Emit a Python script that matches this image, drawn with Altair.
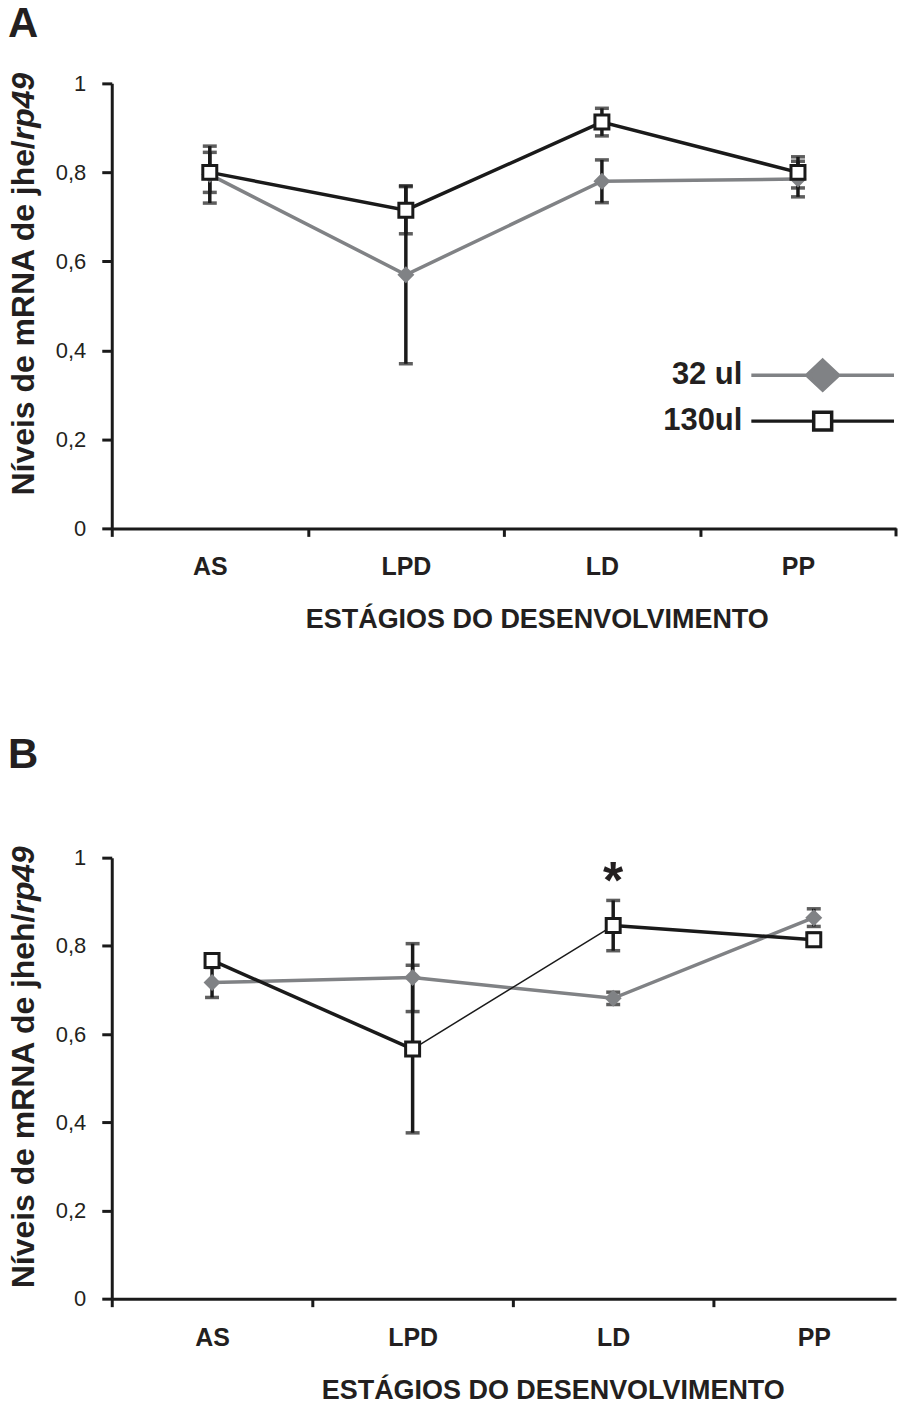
import altair as alt
import pandas as pd

# ---------------- data ----------------
stages = ["AS", "LPD", "LD", "PP"]
series_names = ["32 ul", "130ul"]

# Panel A  (jhe/rp49)
a_32_mean = [0.795, 0.570, 0.780, 0.785]
a_32_err = [0.064, 0.200, 0.048, 0.040]
a_130_mean = [0.800, 0.715, 0.913, 0.800]
a_130_err = [0.045, 0.053, 0.031, 0.035]

# Panel B  (jheh/rp49)
b_32_mean = [0.717, 0.728, 0.681, 0.864]
b_32_err = [0.034, 0.077, 0.014, 0.020]
b_130_mean = [0.767, 0.566, 0.846, 0.814]
b_130_err = [0.010, 0.190, 0.057, 0.015]

star_stage = ["LD"]
star_value = [0.977]
star_text = ["*"]

y_ticks = [0, 0.2, 0.4, 0.6, 0.8, 1]
title_a_roman = ["Níveis de    mRNA de jhe/"]
title_b_roman = ["Níveis de    mRNA de jheh/"]
title_italic = ["rp49"]
x_title = "ESTÁGIOS DO DESENVOLVIMENTO"

# ---------------- style ----------------
FONT = "Liberation Sans"
GRAY = "#808285"
BLACK = "#1a1a1a"
TXT = "#231f20"


def series_frame(means, errs, name):
    return pd.DataFrame({
        "i": list(range(len(stages))),
        "stage": stages,
        "series": name,
        "v": means,
        "lo": [m - e for m, e in zip(means, errs)],
        "hi": [m + e for m, e in zip(means, errs)],
    })


def label_expr():
    expr = "''"
    for k in range(len(stages) - 1, -1, -1):
        expr = f"datum.value < {k} ? '{stages[k]}' : ({expr})"
    return expr


def panel(letter, m32, e32, m130, e130, xmax, width, height, roman, thin_mid,
          legend, star, label_base, title_y, title_x, join_y, end_tick,
          title_offset):
    d32 = series_frame(m32, e32, series_names[0])
    d130 = series_frame(m130, e130, series_names[1])
    both = pd.concat([d32, d130], ignore_index=True)

    step = width / (xmax + 0.5)
    # boundaries between stages (label sits half a step to the right)
    tick_vals = [k - 0.5 for k in range(len(stages))]

    X = alt.X("i:Q",
              scale=alt.Scale(domain=[-0.5, xmax], nice=False, zero=False),
              axis=alt.Axis(values=tick_vals, labelExpr=label_expr(),
                            labelOffset=step / 2, labelFlush=False, labelOverlap=False,
                            labelFont=FONT, labelFontSize=25, labelFontWeight="bold",
                            labelColor=TXT, labelBaseline="alphabetic",
                            labelPadding=label_base - 8, tickSize=8, tickWidth=3,
                            tickColor=BLACK, domainColor=BLACK, domainWidth=3,
                            grid=False, title=x_title, titleFont=FONT,
                            titleFontSize=27, titleFontWeight="bold", titleColor=TXT,
                            titleBaseline="alphabetic", titleY=title_y,
                            titleX=title_x, titleAlign="center"))
    Y = alt.Y("v:Q",
              scale=alt.Scale(domain=[0, 1], nice=False, zero=True),
              axis=alt.Axis(values=y_ticks,
                            labelExpr="replace(format(datum.value, '.1~f'), '.', ',')",
                            labelFont=FONT, labelFontSize=22, labelColor=TXT,
                            labelPadding=16, tickSize=10, tickWidth=3,
                            tickColor=BLACK, domainColor=BLACK, domainWidth=3,
                            grid=False, title=None))

    layers = []
    layers.append(alt.Chart(d32).mark_line(color=GRAY, strokeWidth=3.5)
                  .encode(x=X, y=Y))
    if thin_mid:
        segs = []
        for s in range(len(stages) - 1):
            part = d130.iloc[s:s + 2].copy()
            part["seg"] = s
            part["w"] = 1.5 if s == 1 else 3.5
            segs.append(part)
        dseg = pd.concat(segs, ignore_index=True)
        layers.append(alt.Chart(dseg).mark_line(color=BLACK)
                      .encode(x=X, y=Y, detail="seg:N",
                              strokeWidth=alt.StrokeWidth("w:Q", scale=None)))
    else:
        layers.append(alt.Chart(d130).mark_line(color=BLACK, strokeWidth=3.5)
                      .encode(x=X, y=Y))
    layers.append(alt.Chart(both).mark_rule(color=BLACK, strokeWidth=3.5)
                  .encode(x=X, y=alt.Y("lo:Q"), y2="hi:Q"))
    for f in ["lo", "hi"]:
        layers.append(alt.Chart(both).mark_tick(color=BLACK, thickness=3.5,
                                                size=14, orient="horizontal")
                      .encode(x=X, y=alt.Y(f"{f}:Q")))
    layers.append(alt.Chart(d32).mark_point(shape="diamond", filled=True,
                                            color=GRAY, size=290, opacity=1)
                  .encode(x=X, y=Y))
    layers.append(alt.Chart(d130).mark_point(shape="square", filled=True,
                                             fill="white", stroke=BLACK,
                                             strokeWidth=3, size=196, opacity=1)
                  .encode(x=X, y=Y))

    if end_tick:
        # closing tick at the end of the x axis (domain maximum)
        layers.append(alt.Chart(pd.DataFrame({"i": [xmax]})).mark_rule(
            color=BLACK, strokeWidth=3).encode(
                x=X, y=alt.value(height), y2=alt.value(height + 8)))

    # y-axis title: roman part + italic part
    layers.append(alt.Chart(pd.DataFrame({"t": roman})).mark_text(
        angle=270, align="right", baseline="middle", font=FONT, fontSize=32,
        fontWeight="bold", color=TXT).encode(text="t:N", x=alt.value(-88),
                                            y=alt.value(join_y)))
    layers.append(alt.Chart(pd.DataFrame({"t": title_italic})).mark_text(
        angle=270, align="left", baseline="middle", font=FONT, fontSize=32,
        fontWeight="bold", fontStyle="italic", color=TXT).encode(
            text="t:N", x=alt.value(-88), y=alt.value(join_y)))

    if legend:
        half = 7.15  # half line length in symbol units (10 px / unit)
        gpath = f"M-{half},0L{half},0M0,-1.5L1.6,0L0,1.5L-1.6,0Z"
        spath = (f"M-{half},0L-0.9,0M0.9,0L{half},0"
                 "M-0.9,-0.9L0.9,-0.9L0.9,0.9L-0.9,0.9Z")
        leg = alt.Legend(title=None, orient="none", legendX=697, legendY=277,
                         symbolSize=400, symbolStrokeWidth=3.5,
                         symbolOpacity=1, labelFont=FONT, labelFontSize=31,
                         labelFontWeight="bold", labelColor=TXT,
                         labelAlign="right",
                         labelOffset={"expr": "-96"},
                         rowPadding=7, padding=0, labelLimit=300)
        dleg = pd.DataFrame({"series": series_names, "i": [0, 0], "v": [0.5, 0.5]})
        layers.append(alt.Chart(dleg).mark_point(opacity=0, filled=True, size=1).encode(
            x=X, y=Y,
            shape=alt.Shape("series:N", scale=alt.Scale(domain=series_names,
                                                        range=[gpath, spath]),
                            legend=leg),
            fill=alt.Fill("series:N", scale=alt.Scale(domain=series_names,
                                                      range=[GRAY, "white"]),
                          legend=leg),
            stroke=alt.Stroke("series:N", scale=alt.Scale(domain=series_names,
                                                          range=[GRAY, BLACK]),
                              legend=leg)))
    if star:
        ds = pd.DataFrame({"stage": star_stage, "v": star_value, "t": star_text})
        ds["i"] = [stages.index(s) for s in ds["stage"]]
        layers.append(alt.Chart(ds).mark_text(font=FONT, fontSize=52,
                                              fontWeight="bold", color=TXT,
                                              baseline="alphabetic", dy=30)
                      .encode(x=X, y=Y, text="t:N"))

    return alt.layer(*layers).properties(
        width=width, height=height,
        title=alt.TitleParams(letter, anchor="start", frame="bounds", font=FONT,
                              fontSize=42, fontWeight="bold", color=TXT,
                              offset=title_offset))


pa = panel("A", a_32_mean, a_32_err, a_130_mean, a_130_err, 3.5, 786, 446,
           title_a_roman, False, True, False, 46, 99, 426, 57, True, 26)
pb = panel("B", b_32_mean, b_32_err, b_130_mean, b_130_err, 3.41, 786, 442,
           title_b_roman, True, False, True, 47, 100, 442, 56, False, 69)

chart = alt.vconcat(pa, pb, spacing=102).resolve_scale(
    x="independent", y="independent", shape="independent",
    fill="independent", stroke="independent").properties(
    padding={"left": 8, "top": 2, "right": 0, "bottom": 0}
).configure_view(stroke=None)

chart.save("out.html", embed_options={"renderer": "svg", "actions": False})
